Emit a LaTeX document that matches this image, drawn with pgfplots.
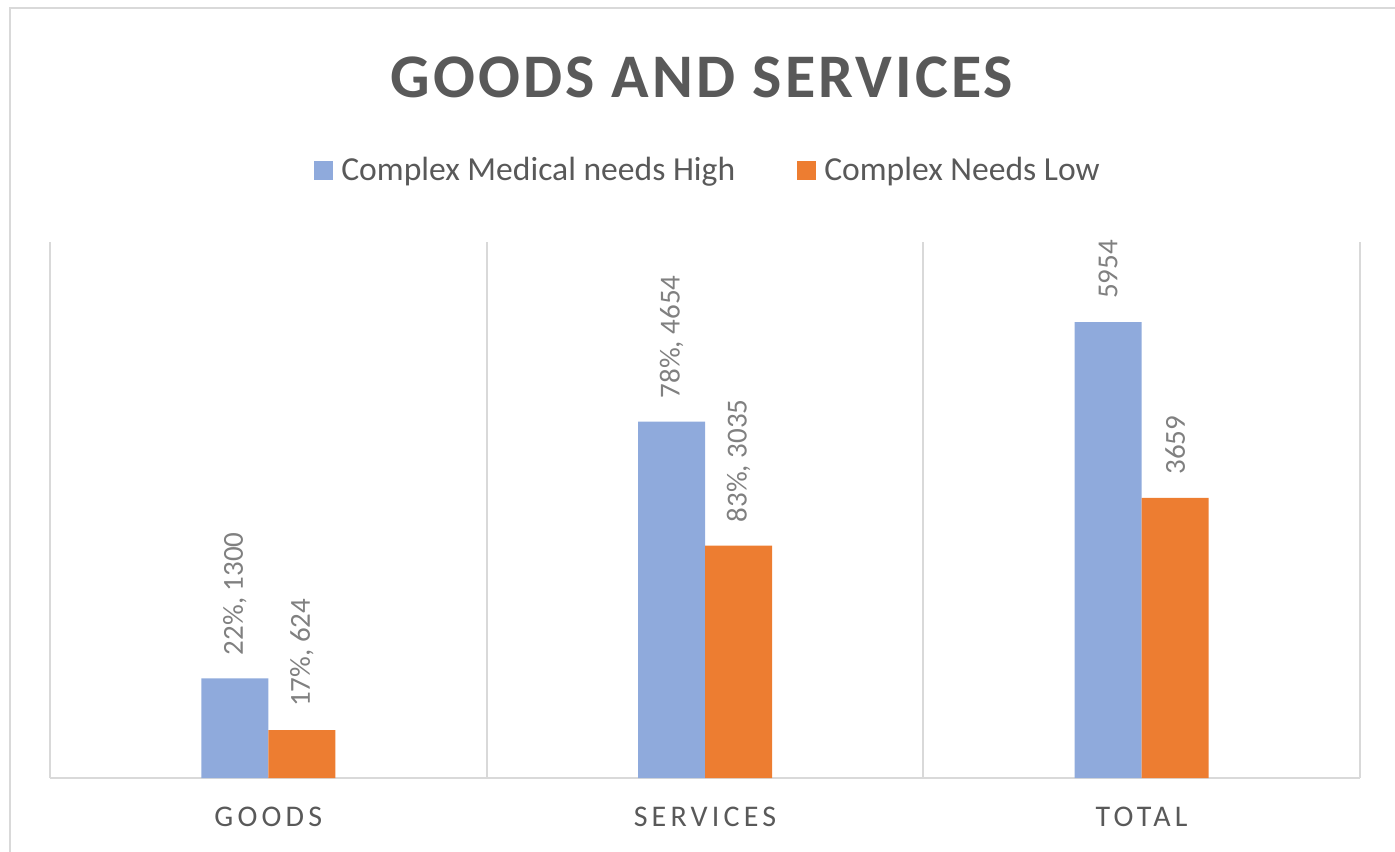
\documentclass[border=0pt]{standalone}
\usepackage{pgfplots}
\pgfplotsset{compat=1.18}
\usetikzlibrary{calc}
\usepackage{fontspec}
\setmainfont{Carlito}
\newfontfamily\titlefont[LetterSpace=5]{Carlito}
\newfontfamily\tickfont[LetterSpace=14]{Carlito}
\definecolor{cblue}{HTML}{8FAADC}
\definecolor{corange}{HTML}{ED7D31}
\definecolor{ctext}{HTML}{595959}
\definecolor{cval}{HTML}{808080}
\definecolor{cgrid}{HTML}{D9D9D9}
\begin{document}
\begin{tikzpicture}
\begin{axis}[
  name=ax,
  scale only axis, width=655pt, height=268pt,
  ybar=0pt, bar width=33.5pt,
  xmin=-0.5, xmax=2.5, ymin=0, ymax=7000,
  axis y line=none,
  axis x line*=bottom,
  x axis line style={-, draw=cgrid, line width=1pt},
  xtick={0,1,2},
  xticklabels={GOODS,SERVICES,TOTAL},
  major tick length=0pt, minor tick length=0pt,
  minor xtick={-0.5,0.5,1.5,2.5},
  xminorgrids=true,
  minor x grid style={draw=cgrid, line width=1pt},
  xticklabel style={font=\tickfont\fontsize{15}{18}\selectfont, text=ctext, inner sep=0pt, yshift=-14.5pt},
  title={GOODS AND SERVICES},
  title style={at={(0.4977,1.285)}, anchor=center, font=\titlefont\bfseries\fontsize{31}{36}\selectfont, text=ctext},
  legend columns=2,
  legend style={at={(0.5046,1.134)}, anchor=center, draw=none, fill=none,
    font=\fontsize{16.8}{19}\selectfont, text=ctext,
    nodes={inner xsep=4pt, inner ysep=1pt},
    /tikz/every even column/.append style={column sep=27pt}},
  legend image code/.code={\fill[#1] (0pt,-4.75pt) rectangle (9.5pt,4.75pt);},
  point meta=explicit symbolic,
  nodes near coords={\pgfplotspointmeta},
  every node near coord/.append style={rotate=90, anchor=west, inner xsep=11.5pt, inner ysep=0pt,
    font=\fontsize{14.5}{17}\selectfont, text=cval},
  clip=false,
]
\addplot[draw=none, fill=cblue] table[x=x, y=y, meta=lab] {
x y lab
0 1300 {22\%, 1300}
1 4654 {78\%, 4654}
2 5954 {5954}
};
\addlegendentry{Complex Medical needs High}
\addplot[draw=none, fill=corange] table[x=x, y=y, meta=lab] {
x y lab
0 624 {17\%, 624}
1 3035 {83\%, 3035}
2 3659 {3659}
};
\addlegendentry{Complex Needs Low}
\end{axis}
\pgfresetboundingbox
\path[use as bounding box] ($(ax.south west)+(-25pt,-36.5pt)$) rectangle ++(697.5pt,425.5pt);
\draw[cgrid, line width=1pt] ($(ax.south west)+(-20pt,-50pt)$) -- ($(ax.south west)+(-20pt,385pt)$) -- ($(ax.south west)+(690pt,385pt)$);
\end{tikzpicture}
\end{document}
